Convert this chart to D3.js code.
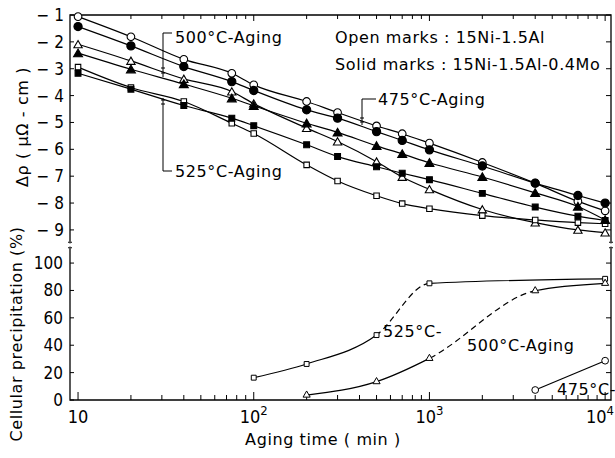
<!DOCTYPE html>
<html>
<head>
<meta charset="utf-8">
<script src="https://cdn.jsdelivr.net/npm/d3@7"></script>
<style>
  body { margin: 0; background: #fff; }
  svg { display: block; }
  .lbl { font-family: "DejaVu Sans", sans-serif; font-size: 16px; letter-spacing: 0.6px; fill: #000; }
  .tick { font-family: "Liberation Sans Narrow", "DejaVu Sans Condensed", sans-serif; font-size: 17px; fill: #000; }
</style>
</head>
<body>
<div id="grafico"></div>
<script>
// Resistivity change (top) and cellular precipitation (bottom) vs aging time
const tempos = [10, 20, 40, 75, 100, 200, 300, 500, 700, 1000, 2000, 4000, 7000, 10000];

const c475aberto = [-1.06, -1.81, -2.65, -3.17, -3.60, -4.22, -4.63, -5.13, -5.42, -5.77, -6.49, -7.26, -7.94, -8.29];
const c475cheio  = [-1.43, -2.15, -2.92, -3.48, -3.81, -4.53, -4.84, -5.34, -5.67, -6.02, -6.62, -7.26, -7.72, -8.00];
const c500aberto = [-2.09, -2.71, -3.38, -3.85, -4.30, -5.21, -5.71, -6.46, -7.03, -7.49, -8.24, -8.73, -9.00, -9.10];
const c500cheio  = [-2.42, -3.02, -3.57, -4.10, -4.38, -5.03, -5.37, -5.87, -6.17, -6.50, -7.03, -7.62, -8.13, -8.63];
const c525aberto = [-2.94, -3.70, -4.22, -5.03, -5.41, -6.58, -7.18, -7.73, -8.02, -8.21, -8.47, -8.63, -8.73, -8.77];
const c525cheio  = [-3.17, -3.76, -4.37, -4.84, -5.12, -5.83, -6.27, -6.65, -6.89, -7.13, -7.64, -8.15, -8.49, -8.65];

// cellular precipitation (%)
const tempos525 = [100, 200, 500, 1000, 10000];
const prec525   = [16.3, 26.3, 47.4, 85.2, 88.5];
const tempos500 = [200, 500, 1000, 4000, 10000];
const prec500   = [3.6, 13.4, 30.4, 79.8, 85.2];
const tempos475 = [4000, 10000];
const prec475   = [7.3, 28.7];

const ticksTopo = [-1, -2, -3, -4, -5, -6, -7, -8, -9];
const ticksBaixo = [0, 20, 40, 60, 80, 100];
const decadas = [10, 100, 1000, 10000];

const series = [
  { v: c475aberto, forma: d3.symbolCircle, cheio: false },
  { v: c475cheio,  forma: d3.symbolCircle, cheio: true },
  { v: c500aberto, forma: d3.symbolTriangle, cheio: false },
  { v: c500cheio,  forma: d3.symbolTriangle, cheio: true },
  { v: c525aberto, forma: d3.symbolSquare, cheio: false },
  { v: c525cheio,  forma: d3.symbolSquare, cheio: true }
];

const width = 615, height = 458;
const L = 70, R = 611;
const svg = d3.select('#grafico').append('svg')
  .attr('width', width).attr('height', height);

const x = d3.scaleLog().domain([9, 10800]).range([L, R]);
const yT = d3.scaleLinear().domain([-1, -9.45]).range([15, 242]);
const yB = d3.scaleLinear().domain([0, 111]).range([400, 248]);

const tam = { circle: 46, triangle: 30, square: 30 };
function area(forma, k) {
  if (forma === d3.symbolCircle) return tam.circle * k;
  if (forma === d3.symbolTriangle) return tam.triangle * k;
  return tam.square * k;
}

// frames
const frame = svg.append('g').attr('stroke', '#000').attr('stroke-width', 1.3).attr('fill', 'none');
frame.append('path').attr('d', `M${L},242 V15 H${R} V242`);
frame.append('path').attr('d', `M${L},248 V400 H${R} V248`);
// break marks
frame.append('path').attr('d', `M${L - 2},242 q2,2 4,0 M${L - 2},248 q2,-2 4,0 M${R - 2},242 q2,2 4,0 M${R - 2},248 q2,-2 4,0`).attr('stroke-width', 1);

// log ticks top/bottom
const menores = [];
decadas.slice(0, 3).forEach(d => { for (let k = 2; k <= 9; k++) menores.push(d * k); });
const tk = svg.append('g').attr('stroke', '#000').attr('stroke-width', 1);
tk.selectAll('line.mn').data(menores).join('line')
  .attr('x1', d => x(d)).attr('x2', d => x(d)).attr('y1', 400).attr('y2', 395);
tk.selectAll('line.mj').data(decadas).join('line')
  .attr('x1', d => x(d)).attr('x2', d => x(d)).attr('y1', 400).attr('y2', 392);
tk.selectAll('line.tmn').data(menores).join('line')
  .attr('x1', d => x(d)).attr('x2', d => x(d)).attr('y1', 15).attr('y2', 19);
tk.selectAll('line.tmj').data(decadas).join('line')
  .attr('x1', d => x(d)).attr('x2', d => x(d)).attr('y1', 15).attr('y2', 21);
// y ticks
tk.selectAll('line.yl').data(ticksTopo).join('line')
  .attr('x1', L).attr('x2', L + 4).attr('y1', d => yT(d)).attr('y2', d => yT(d));
tk.selectAll('line.yr').data(ticksTopo).join('line')
  .attr('x1', R).attr('x2', R - 5).attr('y1', d => yT(d)).attr('y2', d => yT(d));
tk.selectAll('line.bl').data(ticksBaixo).join('line')
  .attr('x1', L).attr('x2', L + 4).attr('y1', d => yB(d)).attr('y2', d => yB(d));
tk.selectAll('line.br').data(ticksBaixo.slice(1)).join('line')
  .attr('x1', R).attr('x2', R - 5).attr('y1', d => yB(d)).attr('y2', d => yB(d));

// tick labels
svg.selectAll('text.yt').data(ticksTopo).join('text')
  .attr('class', 'tick').attr('x', 64).attr('y', d => yT(d) + 6)
  .attr('text-anchor', 'end').text(d => '\u2212 ' + Math.abs(d));
svg.selectAll('text.yb').data(ticksBaixo).join('text')
  .attr('class', 'tick').attr('x', 63).attr('y', d => yB(d) + 6)
  .attr('text-anchor', 'end').text(d => d);
const xl = svg.selectAll('text.xt').data(decadas).join('text')
  .attr('class', 'tick').style('font-size', '18px')
  .attr('x', (d, i) => i === 3 ? 614 : x(d)).attr('y', 423)
  .attr('text-anchor', (d, i) => i === 3 ? 'end' : 'middle');
xl.each(function(d, i) {
  const t = d3.select(this);
  t.append('tspan').text('10');
  if (i > 0) t.append('tspan').attr('dy', -8).style('font-size', '13px').text(i + 1);
});

// top panel lines and marks
const linha = d3.line().x((d, i) => x(tempos[i])).y(d => yT(d)).curve(d3.curveMonotoneX);
series.forEach(s => {
  svg.append('path').attr('d', linha(s.v)).attr('fill', 'none')
    .attr('stroke', '#000').attr('stroke-width', 1.2);
});
series.forEach(s => {
  svg.append('g').selectAll('path').data(s.v).join('path')
    .attr('transform', (d, i) => `translate(${x(tempos[i])},${yT(d) + (s.forma === d3.symbolTriangle ? 1 : 0)})`)
    .attr('d', d3.symbol().type(s.forma).size(area(s.forma, s.cheio ? 1.15 : 1)))
    .attr('fill', s.cheio ? '#000' : '#fff').attr('stroke', '#000').attr('stroke-width', 1.1);
});

// bottom panel: curves with dashed sections
const defs = svg.append('defs');
function clip(id, ranges) {
  const c = defs.append('clipPath').attr('id', id);
  ranges.forEach(r => c.append('rect').attr('x', r[0]).attr('y', 240).attr('width', r[1] - r[0]).attr('height', 170));
}
function curvaBaixo(ts, ps, tracejado, id) {
  const pts = ts.map((t, i) => [x(t), yB(ps[i])]);
  const d = d3.line().curve(d3.curveMonotoneX)(pts);
  if (tracejado) {
    const a = x(tracejado[0]), b = x(tracejado[1]);
    clip(id + 's', [[L, a], [b, R]]);
    clip(id + 'd', [[a, b]]);
    svg.append('path').attr('d', d).attr('fill', 'none').attr('stroke', '#000').attr('stroke-width', 1.2)
      .attr('clip-path', `url(#${id}s)`);
    svg.append('path').attr('d', d).attr('fill', 'none').attr('stroke', '#000').attr('stroke-width', 1.2)
      .attr('stroke-dasharray', '6,4').attr('clip-path', `url(#${id}d)`);
  } else {
    svg.append('path').attr('d', d).attr('fill', 'none').attr('stroke', '#000').attr('stroke-width', 1.2);
  }
}
curvaBaixo(tempos525, prec525, [500, 1000], 'c525');
curvaBaixo(tempos500, prec500, [1000, 4000], 'c500');
curvaBaixo(tempos475, prec475, null, 'c475');

function marcasBaixo(ts, ps, forma, k) {
  svg.append('g').selectAll('path').data(ps).join('path')
    .attr('transform', (d, i) => `translate(${x(ts[i])},${yB(d)})`)
    .attr('d', d3.symbol().type(forma).size(k))
    .attr('fill', '#fff').attr('stroke', '#000').attr('stroke-width', 1);
}
marcasBaixo(tempos525, prec525, d3.symbolSquare, 24);
marcasBaixo(tempos500, prec500, d3.symbolTriangle, 22);
marcasBaixo(tempos475, prec475, d3.symbolCircle, 36);

// annotations
const ann = svg.append('g').attr('stroke', '#000').attr('stroke-width', 1).attr('fill', 'none');
ann.append('path').attr('d', 'M163,77 V33 H172');
ann.append('path').attr('d', 'M163,98 V171 H172');
ann.append('path').attr('d', 'M362,125 V99 H376');
ann.append('path').attr('d', 'M161,68 h4 M161,73 h4 M161,100 h4 M161,104 h4 M360,118 h4 M360,122 h4');

function rotulo(tx, ty, s) {
  svg.append('text').attr('class', 'lbl').attr('x', tx).attr('y', ty).text(s);
}
rotulo(175, 43, '500°C-Aging');
rotulo(175, 177, '525°C-Aging');
rotulo(378, 105, '475°C-Aging');
rotulo(335, 43, 'Open marks : 15Ni-1.5Al');
rotulo(335, 70, 'Solid marks : 15Ni-1.5Al-0.4Mo');
rotulo(383, 337, '525°C-');
rotulo(467, 351, '500°C-Aging');
rotulo(557, 395, '475°C-');

// axis titles
svg.append('text').attr('class', 'lbl').attr('text-anchor', 'middle')
  .attr('x', 323).attr('y', 445).text('Aging time ( min )');
svg.append('text').attr('class', 'lbl').attr('text-anchor', 'middle')
  .attr('transform', 'translate(28,127) rotate(-90)').text('\u0394\u03c1 ( \u03bc\u03a9 - cm )');
svg.append('text').attr('class', 'lbl').attr('text-anchor', 'middle')
  .attr('transform', 'translate(22,334) rotate(-90)').text('Cellular precipitation (%)');
</script>
</body>
</html>
